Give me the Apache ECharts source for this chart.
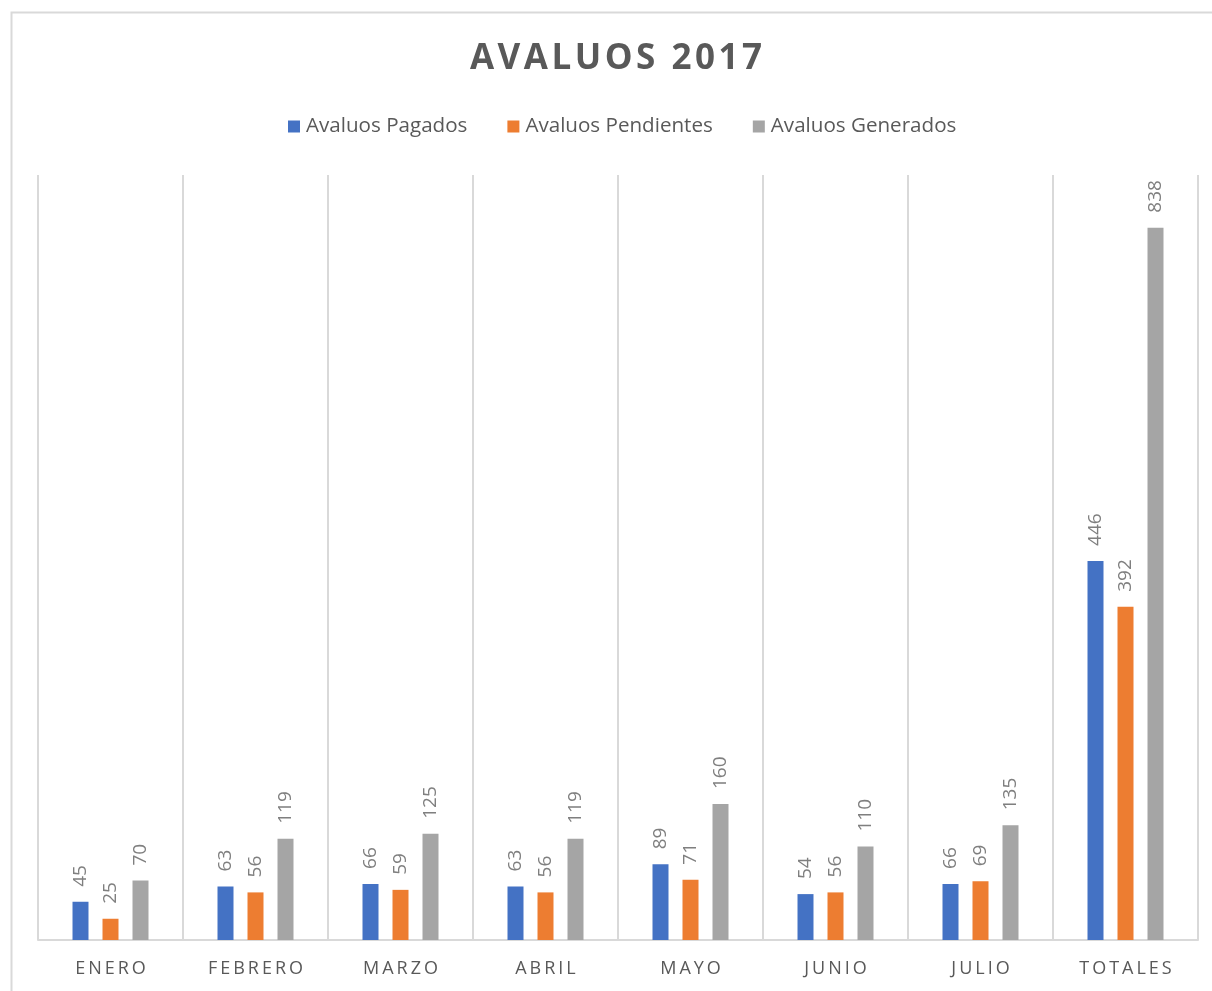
<!DOCTYPE html>
<html>
<head>
<meta charset="utf-8">
<script src="https://cdn.jsdelivr.net/npm/echarts@6/dist/echarts.min.js"></script>
<style>html,body{margin:0;padding:0;background:#fff}#c{width:1212px;height:991px}</style>
</head>
<body>
<div id="c"></div>
<script>
const titleText = 'AVALUOS 2017';
const categories = ['ENERO', 'FEBRERO', 'MARZO', 'ABRIL', 'MAYO', 'JUNIO', 'JULIO', 'TOTALES'];
const seriesNames = ['Avaluos Pagados', 'Avaluos Pendientes', 'Avaluos Generados'];
const pagados = [45, 63, 66, 63, 89, 54, 66, 446];
const pendientes = [25, 56, 59, 56, 71, 56, 69, 392];
const generados = [70, 119, 125, 119, 160, 110, 135, 838];
const colors = ['#4472C4', '#ED7D31', '#A5A5A5'];

const font = '"Open Sans", sans-serif';
const spaced = (s, sp) => s.split('').join(sp);

const chart = echarts.init(document.getElementById('c'), null, {renderer: 'canvas'});
const mk = (name, data, color) => ({
  name, type: 'bar', data, barWidth: 16, barGap: '87.5%',
  itemStyle: {color},
  label: {
    show: true, position: 'top', rotate: 90, align: 'left', verticalAlign: 'middle',
    distance: 15, color: '#7F7F7F', fontSize: 19, fontFamily: font
  }
});
chart.setOption({
  animation: false,
  backgroundColor: '#fff',
  graphic: [{
    type: 'rect', left: 9, top: 10, shape: {width: 1230, height: 1000},
    style: {fill: 'none', stroke: '#D9D9D9', lineWidth: 2}, silent: true
  }],
  title: {
    text: spaced(titleText, '\u200A'), left: 611, textAlign: 'center', top: 37,
    textStyle: {fontFamily: font, fontWeight: 'bold', fontSize: 35, color: '#595959'}
  },
  legend: {
    data: seriesNames, top: 111, left: 283, icon: 'rect', itemWidth: 12, itemHeight: 12,
    itemGap: 40, textStyle: {fontFamily: font, fontSize: 20.6, color: '#595959', padding: [0, 0, 0, 1]}
  },
  grid: {left: 38, right: 14, top: 175, bottom: 51, containLabel: false},
  xAxis: {
    type: 'category', data: categories,
    axisLine: {lineStyle: {color: '#D9D9D9', width: 2}},
    axisTick: {show: false},
    splitLine: {show: true, lineStyle: {color: '#D9D9D9', width: 2}},
    axisLabel: {
      fontFamily: font, fontSize: 18, color: '#595959', margin: 20,
      formatter: v => spaced(v, '\u2009')
    }
  },
  yAxis: {
    type: 'value', min: 0, max: 900, interval: 100,
    axisLine: {show: false}, axisTick: {show: false}, axisLabel: {show: false}, splitLine: {show: false}
  },
  series: [mk(seriesNames[0], pagados, colors[0]), mk(seriesNames[1], pendientes, colors[1]), mk(seriesNames[2], generados, colors[2])]
});
</script>
</body>
</html>
